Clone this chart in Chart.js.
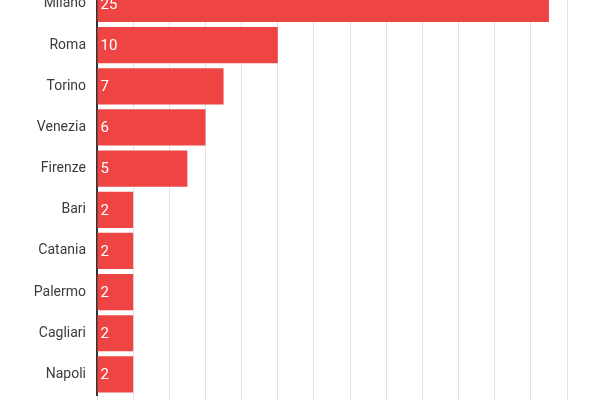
<!DOCTYPE html>
<html>
<head>
<meta charset="utf-8">
<script src="https://cdn.jsdelivr.net/npm/chart.js@4"></script>
<style>
    html, body { margin: 0; padding: 0; background: #fff; overflow: hidden; }
    #wrap { position: absolute; left: 0; top: -28px; width: 600px; height: 443px; }
</style>
</head>
<body>
<div id="wrap"><canvas id="chart"></canvas></div>
<script>
// Data
const cities = ['Milano', 'Roma', 'Torino', 'Venezia', 'Firenze', 'Bari', 'Catania', 'Palermo', 'Cagliari', 'Napoli'];
const counts = [25, 10, 7, 6, 5, 2, 2, 2, 2, 2];
const xMin = 0;
const xMax = 26;
const xStep = 2;

// Value labels drawn inside the start of each bar
const valueLabels = {
    id: 'valueLabels',
    afterDatasetsDraw(chart) {
        const ctx = chart.ctx;
        const meta = chart.getDatasetMeta(0);
        ctx.save();
        ctx.fillStyle = '#ffffff';
        ctx.font = '15px Roboto';
        ctx.textBaseline = 'middle';
        ctx.textAlign = 'left';
        meta.data.forEach((bar, i) => {
            ctx.fillText(String(counts[i]), bar.base + 3, bar.y + 1);
        });
        ctx.restore();
    }
};

const ctx = document.getElementById('chart').getContext('2d');
new Chart(ctx, {
    type: 'bar',
    data: {
        labels: cities,
        datasets: [{
            data: counts,
            backgroundColor: '#ef4444',
            borderWidth: 0,
            barPercentage: 0.88,
            categoryPercentage: 1.0
        }]
    },
    options: {
        indexAxis: 'y',
        responsive: true,
        maintainAspectRatio: false,
        animation: false,
        layout: { padding: { top: 0, right: 33, bottom: 0, left: 0 } },
        plugins: {
            legend: { display: false },
            tooltip: { enabled: false }
        },
        scales: {
            x: {
                min: xMin,
                max: xMax,
                ticks: { stepSize: xStep, display: false },
                grid: { color: '#e3e3e3', lineWidth: 1, drawTicks: true, tickLength: 20 },
                border: { display: false }
            },
            y: {
                afterFit(scale) { scale.width = 97; },
                ticks: {
                    color: '#3c3c3c',
                    padding: 3,
                    font: { family: 'Roboto', size: 14 }
                },
                grid: { display: false },
                border: { display: true, color: '#333333', width: 2 }
            }
        }
    },
    plugins: [valueLabels]
});
</script>
</body>
</html>
